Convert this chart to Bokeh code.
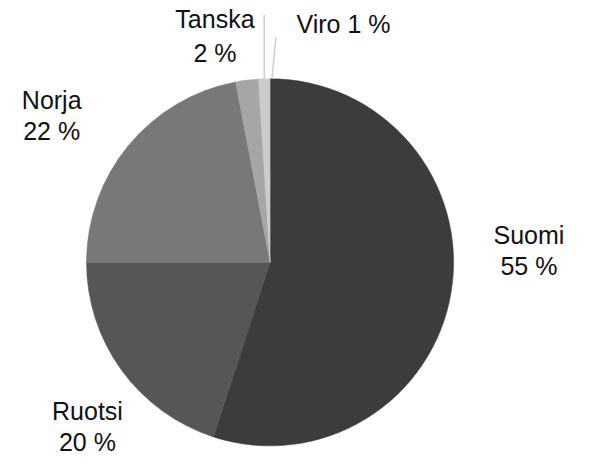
import math
from bokeh.plotting import figure
from bokeh.models import Range1d, ColumnDataSource
from bokeh.core.properties import value
from bokeh.embed import file_html
from bokeh.resources import INLINE

# ---- data ----
categories = ["Suomi", "Ruotsi", "Norja", "Tanska", "Viro"]
shares = [55, 20, 22, 2, 1]
colors = ["#3c3c3c", "#565656", "#787878", "#a6a6a6", "#cbcbcb"]

# ---- layout (reference pixel coords, scaled to fit the 576x456 figure) ----
W, H = 576, 456
S = H / 472.0
def dx(x): return x * S
def dy(y): return H - y * S

cx, cy, R = dx(279), dy(271), 190 * S

total = sum(shares)
starts, ends = [], []
cum = 0.0
for s in shares:
    a0 = math.pi / 2 - 2 * math.pi * cum / total
    cum += s
    a1 = math.pi / 2 - 2 * math.pi * cum / total
    starts.append(a1)
    ends.append(a0)

src = ColumnDataSource(dict(cat=categories, start=starts, end=ends, color=colors,
                            x=[cx] * len(categories), y=[cy] * len(categories)))

p = figure(width=W, height=H, output_backend="svg", toolbar_location=None,
           x_range=Range1d(0, W), y_range=Range1d(0, H), min_border=0)
p.axis.visible = False
p.grid.visible = False
p.outline_line_color = None
p.background_fill_color = "white"
p.border_fill_color = "white"

p.wedge(x="x", y="y", radius=R, start_angle="start", end_angle="end",
        fill_color="color", line_color="color", line_width=0.5, source=src,
        direction="anticlock")

# leader lines for the two small slices
p.segment(x0=[dx(273), dx(285)], y0=[dy(15), dy(38)],
          x1=[dx(273), dx(281)], y1=[dy(81), dy(81)],
          line_color="#cfcfcf", line_width=1.5)

# labels: center x, vertical middle of line 1, middle of line 2 (reference px)
label_pos = {
    "Suomi": (547, 243, 275),
    "Ruotsi": (90, 425, 457),
    "Norja": (53, 103, 135),
    "Tanska": (222, 19, 54),
}
lx, ly, lt = [], [], []
for c, s in zip(categories, shares):
    if c in label_pos:
        x, m1, m2 = label_pos[c]
        lx += [dx(x), dx(x)]
        ly += [dy(m1), dy(m2)]
        lt += [c, f"{s} %"]
    else:
        lx.append(dx(355))
        ly.append(dy(24))
        lt.append(f"{c} {s} %")

p.text(x=lx, y=ly, text=lt, text_align="center", text_baseline="middle",
       text_font=value("Liberation Sans"), text_font_size="25px", text_color="#111111")

open("out.html", "w").write(file_html(p, INLINE))
